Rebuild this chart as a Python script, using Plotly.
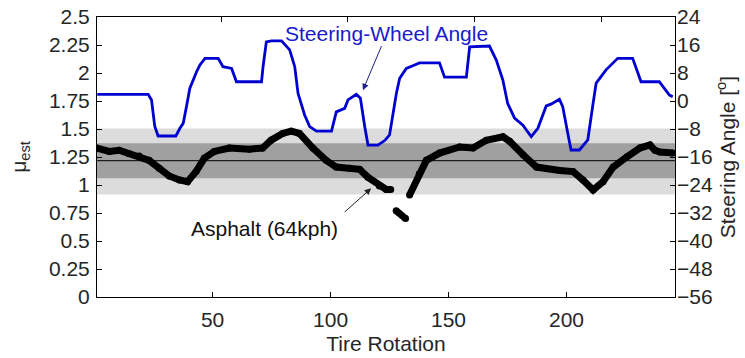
import plotly.graph_objects as go

# Tire rotation index and estimated friction coefficient (gaps = dropped samples)
rotation_mu = [1, 6.2, 10.4, 14.6, 18.9, 23.1, 27.4, 31.6, 35.9, 39.4, 43, 46.5, 50.7,
               57.1, 65.6, 71.2, 74.8, 79.7, 83.3, 86.8, 92.5, 98.1, 102.4, 108, 112.3,
               115.8, 120.7, 123.6, 125.5,
               None,
               127.8, 131.8,
               None,
               133.5, 137.6, 140.6, 146.2, 154.7, 160.4, 166, 173.1, 175.9, 181.6, 187.3,
               197.2, 202.8, 207, 211.3, 215.5, 219.8, 225.5, 231.1, 235.4, 237.5, 239.6,
               245.1]
mu_est = [1.33, 1.30, 1.31, 1.28, 1.26, 1.22, 1.15, 1.08, 1.045, 1.03, 1.12, 1.24, 1.30,
          1.33, 1.32, 1.33, 1.40, 1.46, 1.48, 1.46, 1.33, 1.22, 1.16, 1.15, 1.14,
          1.07, 0.99, 0.96, 0.96,
          None,
          0.77, 0.70,
          None,
          0.91, 1.10, 1.22, 1.285, 1.34, 1.33, 1.40, 1.43, 1.39, 1.27, 1.16,
          1.13, 1.12, 1.045, 0.955, 1.03, 1.16, 1.25, 1.33, 1.357, 1.31, 1.295,
          1.285]

# Steering-wheel angle [deg] vs its own rotation index
rotation_sw = [1.1, 21.2, 22.5, 23.8, 25.1, 32.1, 33.7, 35.0, 36.3, 37.6, 40.3, 41.6, 43.6,
               48.8, 50.7, 54.1, 56.0, 65.9, 66.5, 67.8, 69.8, 73.8, 77.0, 79.0, 80.3,
               82.9, 84.9, 87.6, 93.5, 95.4, 98.7, 100.0, 103.3, 104.9, 106.6, 107.9,
               111.8, 114.5, 116.4, 117.7, 119.1, 120.4, 123.0, 126.3, 128.2, 136.1,
               138.1, 146.7, 148.0, 155.8, 158.5, 161.1, 163.0, 165.7, 169.0, 172.3,
               174.9, 178.2, 180.1, 183.4, 184.7, 186.7, 188.0, 191.3, 194.6, 196.5,
               197.9, 201.8, 206.4, 212.3, 215.6, 222.8, 226.8, 228.1]
steer_deg = [1.9, 1.9, 0.3, -7.3, -10, -10, -7.8, -6.4, -1.6, 3.6, 8.4, 10.3, 12.2,
             12.2, 9.8, 9.3, 5.5, 5.5, 9.8, 16.9, 17.2, 17.2, 14.6, 9.8, 2.2,
             -4, -7.3, -8.6, -8.6, -3.1, -2.1, 0.3, 1.9, 0.8, -7.3, -12.6,
             -12.6, -11.3, -9.7, -3.5, 2.2, 6.5, 9.3, 10.3, 10.9, 10.9,
             6.8, 6.8, 15.5, 15.7, 11.7, 6, -0.7, -4.9, -6.9, -10.2,
             -7.8, -1.4, -0.9, 0.5, -1.6, -9.2, -14, -14, -11.1, -1.6,
             5.1, 8.9, 12.2, 12.2, 5.5, 5.5, 1.7, 1.2]

# Reference friction level and its tolerance bands
mu_ref = 1.217
band_inner = [1.06, 1.372]
band_outer = [0.915, 1.505]

# Axis ticks
x_ticks = [50, 100, 150, 200]
mu_ticks = [0, 0.25, 0.5, 0.75, 1, 1.25, 1.5, 1.75, 2, 2.25, 2.5]
mu_tick_text = ["0", "0.25", "0.5", "0.75", "1", "1.25", "1.5", "1.75", "2", "2.25", "2.5"]
steer_ticks = [-56, -48, -40, -32, -24, -16, -8, 0, 8, 16, 24]

FONT = "Liberation Sans, Arial, sans-serif"
TXT = "#262626"
FS = 21

fig = go.Figure()

fig.add_trace(go.Scatter(
    x=rotation_mu, y=mu_est, mode="lines+markers",
    line=dict(color="black", width=7),
    marker=dict(color="black", size=7),
    connectgaps=False, showlegend=False, xaxis="x", yaxis="y",
))

fig.add_trace(go.Scatter(
    x=rotation_sw, y=steer_deg, mode="lines",
    line=dict(color="#0000d0", width=2.8),
    showlegend=False, xaxis="x2", yaxis="y2",
))

# Tolerance bands and reference line
fig.add_shape(type="rect", xref="paper", yref="y", x0=0, x1=1,
              y0=band_outer[0], y1=band_outer[1],
              fillcolor="#dcdcdc", line_width=0, layer="below")
fig.add_shape(type="rect", xref="paper", yref="y", x0=0, x1=1,
              y0=band_inner[0], y1=band_inner[1],
              fillcolor="#a0a0a0", line_width=0, layer="below")
fig.add_shape(type="line", xref="paper", yref="y", x0=0, x1=1,
              y0=mu_ref, y1=mu_ref, line=dict(color="black", width=1), layer="below")

# Curve labels; the steering label carries its own arrow
fig.add_annotation(x=105.9, y=3.1, xref="x2", yref="y2", text="Steering-Wheel Angle",
                   showarrow=True, ax=24, ay=-57, arrowhead=2, arrowsize=1.3,
                   arrowwidth=1, arrowcolor="#20208a",
                   font=dict(family=FONT, size=FS, color="#1a1acc"))
fig.add_annotation(x=40.1, y=0.616, xref="x", yref="y", text="Asphalt (64kph)",
                   showarrow=False, xanchor="left", yanchor="middle",
                   font=dict(family=FONT, size=FS, color="#111111"))
fig.add_annotation(x=117.2, y=0.97, xref="x", yref="y", text="",
                   showarrow=True, ax=-28, ay=25, arrowhead=2, arrowsize=1.3,
                   arrowwidth=1, arrowcolor="#222222")

axis_common = dict(showgrid=False, zeroline=False, ticks="inside", ticklen=5,
                   tickwidth=1, tickcolor="black", automargin=False,
                   tickfont=dict(family=FONT, size=FS, color=TXT))

fig.update_layout(
    width=745, height=358,
    margin=dict(l=97, r=70, t=17, b=61, autoexpand=False),
    paper_bgcolor="white", plot_bgcolor="white",
    font=dict(family=FONT, size=FS, color=TXT),
    xaxis=dict(range=[1, 246], tickvals=x_ticks, showline=True, linecolor="black",
               linewidth=1, mirror=True, ticklabelstandoff=4,
               title=dict(text="Tire Rotation", standoff=6,
                          font=dict(family=FONT, size=FS, color=TXT)),
               **axis_common),
    xaxis2=dict(range=[1, 229], tickvals=x_ticks, overlaying="x", side="top",
                showticklabels=False, showline=False, anchor="y", **axis_common),
    yaxis=dict(range=[0, 2.5], tickvals=mu_ticks, ticktext=mu_tick_text,
               showline=True, linecolor="black", linewidth=1, mirror=True,
               ticklabelstandoff=2,
               title=dict(text="μ<sub>est</sub>", standoff=16,
                          font=dict(family=FONT, size=FS, color=TXT)),
               **axis_common),
    yaxis2=dict(range=[-56, 24], tickvals=steer_ticks, overlaying="y", side="right",
                showline=False, anchor="x", ticklabelstandoff=1,
                title=dict(text="Steering Angle [<sup>o</sup>]", standoff=8,
                           font=dict(family=FONT, size=FS, color=TXT)),
                **axis_common),
)

fig.write_html("out.html")
